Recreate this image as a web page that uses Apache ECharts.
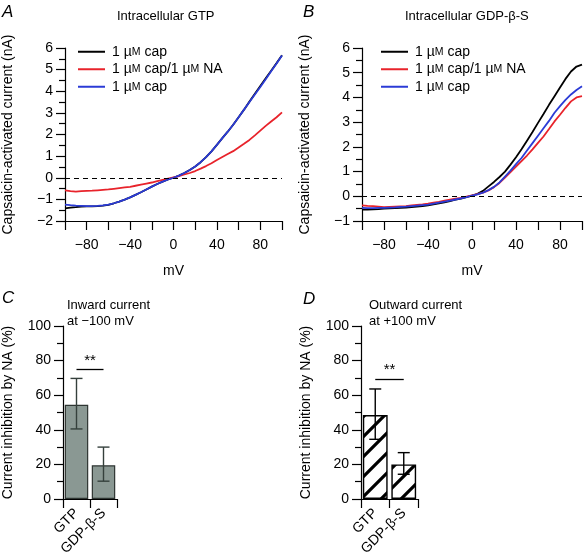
<!DOCTYPE html>
<html>
<head>
<meta charset="utf-8">
<script src="https://cdn.jsdelivr.net/npm/echarts@6/dist/echarts.min.js"></script>
<style>html,body{margin:0;padding:0;background:#fff;}#c{width:585px;height:560px;}</style>
</head>
<body>
<div id="c"></div>
<script>
// ---- data ----
const voltage = [-100,-95,-90,-85,-80,-75,-70,-65,-60,-55,-50,-45,-40,-35,-30,-25,-20,-15,-10,-5,0,5,10,15,20,25,30,35,40,45,50,55,60,65,70,75,80,85,90,95,100];
// Panel A: intracellular GTP (nA)
const gtpCap1  = [-1.42,-1.38,-1.36,-1.33,-1.32,-1.32,-1.31,-1.29,-1.25,-1.18,-1.10,-1.01,-0.91,-0.79,-0.67,-0.54,-0.41,-0.29,-0.18,-0.08,0.00,0.10,0.22,0.36,0.52,0.72,0.95,1.22,1.52,1.83,2.13,2.45,2.80,3.15,3.52,3.88,4.24,4.60,4.95,5.30,5.66];
const gtpCapNA = [-0.58,-0.62,-0.64,-0.62,-0.61,-0.60,-0.58,-0.56,-0.54,-0.51,-0.48,-0.45,-0.42,-0.37,-0.32,-0.27,-0.22,-0.16,-0.10,-0.04,0.02,0.08,0.15,0.22,0.31,0.42,0.54,0.67,0.82,0.96,1.10,1.23,1.40,1.57,1.75,1.96,2.18,2.40,2.60,2.80,3.02];
const gtpCap2  = [-1.24,-1.27,-1.29,-1.30,-1.31,-1.31,-1.30,-1.28,-1.24,-1.18,-1.10,-1.01,-0.91,-0.79,-0.67,-0.54,-0.41,-0.29,-0.18,-0.08,0.00,0.10,0.22,0.36,0.52,0.72,0.95,1.22,1.52,1.83,2.13,2.45,2.80,3.15,3.50,3.85,4.20,4.56,4.92,5.28,5.65];
// Panel B: intracellular GDP-beta-S (nA)
const gdpCap1  = [-0.54,-0.54,-0.53,-0.52,-0.50,-0.49,-0.48,-0.47,-0.46,-0.44,-0.42,-0.40,-0.37,-0.33,-0.29,-0.25,-0.20,-0.14,-0.09,-0.03,0.03,0.10,0.22,0.40,0.58,0.78,1.00,1.28,1.58,1.90,2.25,2.60,2.97,3.33,3.70,4.05,4.40,4.75,5.05,5.25,5.33];
const gdpCapNA = [-0.37,-0.39,-0.40,-0.42,-0.44,-0.43,-0.42,-0.41,-0.40,-0.37,-0.35,-0.33,-0.30,-0.26,-0.23,-0.18,-0.14,-0.10,-0.06,-0.01,0.04,0.09,0.15,0.24,0.37,0.54,0.76,0.98,1.20,1.42,1.65,1.90,2.16,2.42,2.72,3.03,3.30,3.58,3.84,4.00,4.05];
const gdpCap2  = [-0.47,-0.48,-0.48,-0.47,-0.47,-0.46,-0.45,-0.43,-0.42,-0.40,-0.38,-0.36,-0.34,-0.30,-0.26,-0.22,-0.18,-0.13,-0.08,-0.03,0.03,0.08,0.15,0.25,0.38,0.56,0.80,1.04,1.30,1.55,1.85,2.15,2.45,2.75,3.05,3.38,3.65,3.90,4.12,4.30,4.45];
// Panels C, D: bar data (%)
const barCategories = ['GTP', 'GDP-β-S'];
const inwardMean = [54.5, 19.5];
const inwardLow  = [40.5, 10.3];
const inwardHigh = [69.7, 30.0];
const inwardSig  = 75;
const outwardMean = [48.5, 20.0];
const outwardLow  = [34.5, 14.3];
const outwardHigh = [63.6, 26.8];
const outwardSig  = 69.5;
const legendNames = {cap1: '1 µ{sc|M} cap', capNA: '1 µ{sc|M} cap/1 µ{sc|M} NA', cap2: '1 µ{sc|M} cap'};

// ---- chart ----
const FONT = 'Liberation Sans, Arial, sans-serif';
const fmt = v => String(v).replace('-', '\u2212');
const pairs = arr => voltage.map((v, i) => [v, arr[i]]);
const axLine = {show: true, onZero: false, lineStyle: {color: '#000', width: 1.2}};
const tickStyle = {color: '#000', width: 1.2};

// diagonal hatch tile
const hatch = document.createElement('canvas');
hatch.width = 20; hatch.height = 20;
(function () {
  const g = hatch.getContext('2d');
  g.fillStyle = '#fff'; g.fillRect(0, 0, 20, 20);
  g.strokeStyle = '#000'; g.lineWidth = 3.2; g.lineCap = 'square';
  [[-10, 10, 10, -10], [0, 20, 20, 0], [10, 30, 30, 10]].forEach(l => {
    g.beginPath(); g.moveTo(l[0], l[1]); g.lineTo(l[2], l[3]); g.stroke();
  });
})();

function ivYAxis(gi, min) {
  return {type: 'value', gridIndex: gi, min: min, max: 6, interval: 1,
    name: 'Capsaicin-activated current (nA)', nameLocation: 'middle', nameGap: 50,
    nameTextStyle: {fontSize: 14, color: '#000', fontFamily: FONT},
    axisLine: axLine, axisTick: {show: true, length: 9, lineStyle: tickStyle},
    minorTick: {show: true, splitNumber: 2, length: 6, lineStyle: tickStyle},
    splitLine: {show: false}, minorSplitLine: {show: false},
    axisLabel: {fontSize: 14, color: '#000', fontFamily: FONT, margin: 12, formatter: fmt}};
}
function ivXAxis(gi) {
  return {type: 'value', gridIndex: gi, min: -100, max: 100, interval: 20,
    name: 'mV', nameLocation: 'middle', nameGap: 43,
    nameTextStyle: {fontSize: 14, color: '#000', fontFamily: FONT},
    axisLine: axLine, axisTick: {show: true, length: 9, lineStyle: tickStyle},
    splitLine: {show: false},
    axisLabel: {fontSize: 14, color: '#000', fontFamily: FONT, margin: 17,
      formatter: v => (v % 40 === 0 ? fmt(v) : '')}};
}
function barYAxis(gi) {
  return {type: 'value', gridIndex: gi, min: 0, max: 100, interval: 20,
    name: 'Current inhibition by NA (%)', nameLocation: 'middle', nameGap: 48,
    nameTextStyle: {fontSize: 14, color: '#000', fontFamily: FONT},
    axisLine: axLine, axisTick: {show: true, length: 9, lineStyle: tickStyle},
    minorTick: {show: true, splitNumber: 2, length: 6, lineStyle: tickStyle},
    splitLine: {show: false}, minorSplitLine: {show: false},
    axisLabel: {fontSize: 14, color: '#000', fontFamily: FONT, margin: 12}};
}
function barXAxis(gi) {
  return {type: 'category', gridIndex: gi, data: barCategories, boundaryGap: true,
    axisLine: axLine, axisTick: {show: true, length: 9, lineStyle: tickStyle, alignWithLabel: false},
    axisLabel: {fontSize: 14, color: '#000', fontFamily: FONT, rotate: 45, margin: 12, interval: 0}};
}
function lineSeries(gi, name, arr, color, extra) {
  return Object.assign({type: 'line', name: name, xAxisIndex: gi, yAxisIndex: gi, data: pairs(arr),
    showSymbol: false, symbol: 'none', smooth: false, color: color,
    lineStyle: {color: color, width: 1.8}, animation: false, z: 3}, extra || {});
}
const zeroLine = {silent: true, symbol: 'none', label: {show: false},
  lineStyle: {color: '#000', type: [5, 4], width: 1.1}, data: [{yAxis: 0}]};

function errSeries(gi, lo, hi, color) {
  return {type: 'custom', xAxisIndex: gi, yAxisIndex: gi, z: 5, animation: false, silent: true,
    data: lo.map((l, i) => [i, l, hi[i]]),
    renderItem: function (params, api) {
      const p1 = api.coord([api.value(0), api.value(1)]);
      const p2 = api.coord([api.value(0), api.value(2)]);
      const hw = 6, st = {stroke: color, lineWidth: 1.4};
      return {type: 'group', children: [
        {type: 'line', shape: {x1: p1[0], y1: p1[1], x2: p2[0], y2: p2[1]}, style: st},
        {type: 'line', shape: {x1: p1[0] - hw, y1: p1[1], x2: p1[0] + hw, y2: p1[1]}, style: st},
        {type: 'line', shape: {x1: p2[0] - hw, y1: p2[1], x2: p2[0] + hw, y2: p2[1]}, style: st}
      ]};
    }};
}
function sigMark(val) {
  return {silent: true, symbol: 'none',
    lineStyle: {color: '#000', type: 'solid', width: 1.3},
    label: {show: true, formatter: '**', position: 'middle', fontSize: 15, color: '#000', fontFamily: FONT, distance: 1},
    data: [[{coord: [barCategories[0], val]}, {coord: [barCategories[1], val]}]]};
}
function legendFor(gi, left) {
  return {show: true, orient: 'vertical', left: left, top: 38, itemWidth: 27, itemHeight: 2, itemGap: 0,
    icon: 'rect',
    data: [{name: 'cap1' + gi}, {name: 'capNA' + gi}, {name: 'cap2' + gi}],
    formatter: n => legendNames[n.replace(/\d$/, '')],
    textStyle: {fontSize: 14, color: '#000', fontFamily: FONT, lineHeight: 17.5, padding: [0, 0, 0, 2],
      rich: {sc: {fontSize: 10.5, color: '#000', fontFamily: FONT}}}};
}

const txt = (x, y, s, opt) => ({type: 'text', left: x, top: y,
  style: Object.assign({text: s, fontSize: 13, fill: '#000', fontFamily: FONT}, opt || {})});

const option = {
  animation: false,
  backgroundColor: '#fff',
  grid: [
    {left: 60, top: 48, width: 222, height: 173},
    {left: 362, top: 48, width: 221, height: 173},
    {left: 60, top: 326, width: 57, height: 173},
    {left: 361, top: 326, width: 57, height: 173}
  ],
  xAxis: [ivXAxis(0), ivXAxis(1), barXAxis(2), barXAxis(3)],
  yAxis: [ivYAxis(0, -2), ivYAxis(1, -1), barYAxis(2), barYAxis(3)],
  legend: [legendFor(0, 73), legendFor(1, 376)],
  series: [
    lineSeries(0, 'cap10', gtpCap1, '#000000', {markLine: zeroLine}),
    lineSeries(0, 'capNA0', gtpCapNA, '#e8232b'),
    lineSeries(0, 'cap20', gtpCap2, '#2b3bd6'),
    lineSeries(1, 'cap11', gdpCap1, '#000000', {markLine: zeroLine}),
    lineSeries(1, 'capNA1', gdpCapNA, '#e8232b'),
    lineSeries(1, 'cap21', gdpCap2, '#2b3bd6'),
    {type: 'bar', xAxisIndex: 2, yAxisIndex: 2, data: inwardMean, barWidth: '87%',
      itemStyle: {color: '#8a9893', borderColor: '#2e3532', borderWidth: 1.2},
      markLine: sigMark(inwardSig)},
    errSeries(2, inwardLow, inwardHigh, '#35403c'),
    {type: 'bar', xAxisIndex: 3, yAxisIndex: 3, data: outwardMean, barWidth: '87%',
      itemStyle: {color: {image: hatch, repeat: 'repeat'}, borderColor: '#000', borderWidth: 1.4},
      markLine: sigMark(outwardSig)},
    errSeries(3, outwardLow, outwardHigh, '#000')
  ],
  graphic: [
    txt(2, 4, 'A', {fontSize: 17, fontStyle: 'italic'}),
    txt(303, 4, 'B', {fontSize: 17, fontStyle: 'italic'}),
    txt(2, 290, 'C', {fontSize: 17, fontStyle: 'italic'}),
    txt(303, 291, 'D', {fontSize: 17, fontStyle: 'italic'}),
    {type: 'text', left: 117, top: 10, style: {text: 'Intracellular GTP', fontSize: 13, fill: '#000', fontFamily: FONT}},
    {type: 'text', left: 405, top: 10, style: {text: 'Intracellular GDP-β-S', fontSize: 13, fill: '#000', fontFamily: FONT}},
    txt(67, 299, 'Inward current'),
    txt(67, 315, 'at \u2212100 mV'),
    txt(369, 299, 'Outward current'),
    txt(369, 315, 'at +100 mV')
  ]
};
const chart = echarts.init(document.getElementById('c'), null, {renderer: 'canvas'});
chart.setOption(option);
</script>
</body>
</html>
